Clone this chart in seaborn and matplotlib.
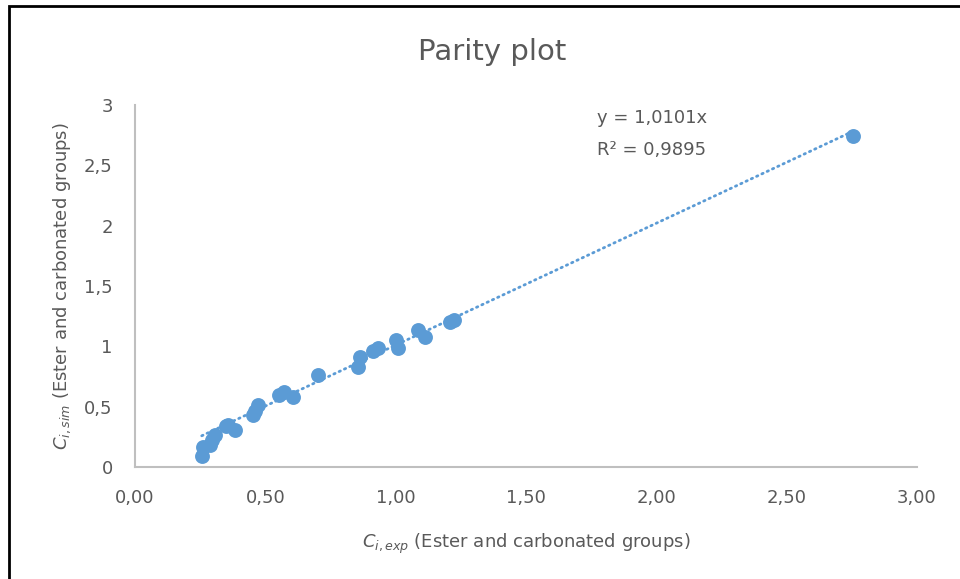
import matplotlib
matplotlib.use("Agg")
import matplotlib.pyplot as plt
import seaborn as sns
import numpy as np
import pandas as pd
from matplotlib.patches import Rectangle

# ---- data ----
c_exp = [0.256, 0.262, 0.288, 0.295, 0.307, 0.350, 0.358, 0.384, 0.454, 0.460,
         0.473, 0.553, 0.570, 0.607, 0.703, 0.857, 0.863, 0.914, 0.933, 1.003,
         1.010, 1.087, 1.112, 1.210, 1.225, 2.755]
c_sim = [0.094, 0.168, 0.182, 0.220, 0.265, 0.340, 0.348, 0.307, 0.431, 0.460,
         0.514, 0.600, 0.620, 0.582, 0.762, 0.828, 0.914, 0.960, 0.983, 1.052,
         0.990, 1.135, 1.080, 1.200, 1.218, 2.742]
slope = 1.0101
r2 = 0.9895
x_ticks = [0.0, 0.5, 1.0, 1.5, 2.0, 2.5, 3.0]
x_tick_labels = ["0,00", "0,50", "1,00", "1,50", "2,00", "2,50", "3,00"]
y_ticks = [0, 0.5, 1, 1.5, 2, 2.5, 3]
y_tick_labels = ["0", "0,5", "1", "1,5", "2", "2,5", "3"]
title = "Parity plot"

sns.set_theme(style="white")
plt.rcParams['font.family'] = ['DejaVu Sans']
plt.rcParams['mathtext.fontset'] = 'dejavusans'

BLUE = "#5B9BD5"
GREY = "#595959"

fig = plt.figure(figsize=(9.6, 5.79), dpi=100)
ax = fig.add_axes([135/960, 1-467/579, (917-135)/960, (467-105)/579])

df = pd.DataFrame({"exp": c_exp, "sim": c_sim})
xs = np.array([min(c_exp), max(c_exp)])
trend = pd.DataFrame({"x": xs, "y": slope * xs})
sns.lineplot(data=trend, x="x", y="y", ax=ax, color=BLUE, linewidth=2.0,
             linestyle=(0, (0.5, 1.6)), zorder=2)
ax.lines[-1].set_dash_capstyle('round')
sns.scatterplot(data=df, x="exp", y="sim", ax=ax, color=BLUE, s=115,
                edgecolor=BLUE, linewidth=0, zorder=3)

ax.set_xlim(0, 3)
ax.set_ylim(0, 3)
ax.set_xticks(x_ticks)
ax.set_xticklabels(x_tick_labels)
ax.set_yticks(y_ticks)
ax.set_yticklabels(y_tick_labels)
ax.tick_params(axis='both', length=0, labelsize=13, labelcolor=GREY)
ax.tick_params(axis='x', pad=16)
ax.tick_params(axis='y', pad=16)
for s in ["top", "right"]:
    ax.spines[s].set_visible(False)
for s in ["left", "bottom"]:
    ax.spines[s].set_color("#BFBFBF")
    ax.spines[s].set_linewidth(1.5)

ax.set_xlabel(r"$C_{i,exp}$ (Ester and carbonated groups)", fontsize=13,
              color=GREY, labelpad=18)
ax.set_ylabel(r"$C_{i,sim}$ (Ester and carbonated groups)", fontsize=13,
              color=GREY, labelpad=8)

fig.text(492/960, 1-52/579, title, ha="center", va="center", fontsize=21,
         color=GREY)
fig.text(597/960, 1-118/579, f"y = {slope:.4f}x".replace(".", ","),
         fontsize=13, color=GREY, va="center", ha="left")
fig.text(597/960, 1-150/579, f"R² = {r2:.4f}".replace(".", ","),
         fontsize=13, color=GREY, va="center", ha="left")

fig.patches.append(Rectangle((9/960, -0.1), 1.2, 1 - 6/579 + 0.1,
                             transform=fig.transFigure, fill=False,
                             edgecolor="black", linewidth=2, zorder=10))

fig.savefig("out.png", dpi=100)
